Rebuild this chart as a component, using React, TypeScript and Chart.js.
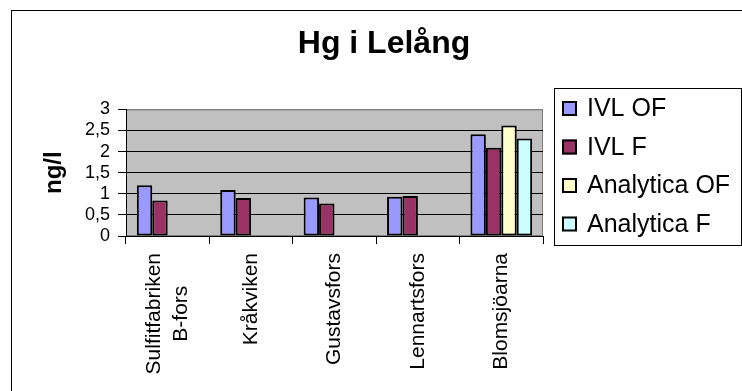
import React, { useEffect, useRef } from 'react';
import { Chart, registerables } from 'chart.js';

Chart.register(...registerables);

const FONT = '"Liberation Sans", Arial, sans-serif';

const categoryLines: string[][] = [
  ['Sulfitfabriken', 'B-fors'],
  ['Kråkviken'],
  ['Gustavsfors'],
  ['Lennartsfors'],
  ['Blomsjöarna'],
];
const seriesNames = ['IVL OF', 'IVL F', 'Analytica OF', 'Analytica F'];
const ivlOF = [1.2, 1.09, 0.91, 0.93, 2.41];
const ivlF = [0.84, 0.9, 0.77, 0.945, 2.09];
const analyticaOF = [null, null, null, null, 2.62];
const analyticaF = [null, null, null, null, 2.31];
const seriesColors = ['#9999FF', '#993366', '#FFFFCC', '#CCFFFF'];
const yTickValues = [0, 0.5, 1, 1.5, 2, 2.5, 3];
const yTickLabels = ['0', '0,5', '1', '1,5', '2', '2,5', '3'];
const chartTitle = 'Hg i Lelång';
const yTitle = 'ng/l';

const decor = {
  id: 'decor',
  beforeDraw(chart: any) {
    const { ctx, chartArea: a } = chart;
    ctx.save();
    ctx.fillStyle = '#C0C0C0';
    ctx.fillRect(a.left, a.top, a.right - a.left, a.bottom - a.top);
    ctx.strokeStyle = '#808080';
    ctx.lineWidth = 1;
    ctx.strokeRect(a.left + 0.5, a.top + 0.5, a.right - a.left - 1, a.bottom - a.top - 1);
    ctx.restore();
  },
  afterDraw(chart: any) {
    const { ctx } = chart;
    const xs = chart.scales.x;
    ctx.save();
    // category labels
    ctx.font = `21px ${FONT}`;
    ctx.fillStyle = '#000';
    ctx.textAlign = 'center';
    ctx.textBaseline = 'middle';
    const lh = 27;
    const topY = 253;
    categoryLines.forEach((lines, i) => {
      const cx = xs.getPixelForTick(i);
      const w = Math.max(...lines.map((l) => ctx.measureText(l).width));
      lines.forEach((line, j) => {
        const lx = cx + (j - (lines.length - 1) / 2) * lh;
        ctx.save();
        ctx.translate(lx, topY);
        ctx.rotate(-Math.PI / 2);
        ctx.fillText(line, -w / 2, 0);
        ctx.restore();
      });
    });
    // legend
    const lx0 = 554.5, ly0 = 88.5, lw = 187, lhh = 157;
    ctx.strokeStyle = '#000';
    ctx.lineWidth = 1;
    ctx.strokeRect(lx0, ly0, lw, lhh);
    ctx.font = `25px ${FONT}`;
    ctx.textAlign = 'left';
    ctx.textBaseline = 'middle';
    chart.data.datasets.forEach((ds: any, i: number) => {
      const cy = 108.5 + 38.5 * i;
      ctx.fillStyle = ds.backgroundColor;
      ctx.fillRect(562, cy - 7.5, 15, 15);
      ctx.strokeStyle = '#000';
      ctx.lineWidth = 2;
      ctx.strokeRect(563, cy - 6.5, 13, 13);
      ctx.fillStyle = '#000';
      ctx.fillText(ds.label, 587, cy + 1);
    });
    // outer border
    ctx.strokeStyle = '#000';
    ctx.lineWidth = 1;
    ctx.strokeRect(11.5, 10.5, 900, 600);
    ctx.restore();
  },
};

export default function App() {
  const ref = useRef<HTMLCanvasElement>(null);
  useEffect(() => {
    if (!ref.current) return;
    const data = [ivlOF, ivlF, analyticaOF, analyticaF];
    const chart = new Chart(ref.current, {
      type: 'bar',
      data: {
        labels: categoryLines.map((l) => l.join(' ')),
        datasets: seriesNames.map((name, i) => ({
          label: name,
          data: data[i] as any,
          backgroundColor: seriesColors[i],
          borderColor: '#000',
          borderWidth: 2,
          borderSkipped: false,
          yAxisID: 'y',
          categoryPercentage: 0.74,
          barPercentage: 1,
        })),
      },
      options: {
        responsive: false,
        animation: false,
        devicePixelRatio: 1,
        layout: { padding: { left: 26, right: 0, top: 0, bottom: 0 } },
        plugins: {
          legend: { display: false },
          tooltip: { enabled: false },
          title: {
            display: true,
            text: chartTitle,
            color: '#000',
            font: { family: FONT, size: 32, weight: 'bold' },
            padding: { top: 25, bottom: 46 },
          },
        },
        scales: {
          x: {
            afterFit: (s: any) => {
              s.height = 155;
            },
            ticks: { display: false },
            grid: {
              offset: true,
              drawOnChartArea: false,
              drawTicks: true,
              tickLength: 8,
              color: '#000',
            },
            border: { color: '#000', width: 1 },
          },
          y: {
            type: 'linear',
            position: 'left',
            min: 0,
            max: 3,
            afterFit: (s: any) => {
              s.width = 100;
            },
            afterBuildTicks: (s: any) => {
              s.ticks = yTickValues.map((v) => ({ value: v }));
            },
            ticks: {
              color: '#000',
              padding: 8,
              autoSkip: false,
              font: { family: FONT, size: 18 },
              callback: (v: any) => {
                const i = yTickValues.indexOf(Number(v));
                return i >= 0 ? yTickLabels[i] : '';
              },
            },
            grid: {
              color: (c: any) => (c.tick && c.tick.value === 3 ? '#808080' : '#000'),
              tickColor: '#000',
              tickLength: 8,
              drawTicks: true,
            },
            border: { color: '#000', width: 1 },
            title: {
              display: true,
              text: yTitle,
              color: '#000',
              font: { family: FONT, size: 24, weight: 'bold' },
              padding: { top: 14, bottom: 0 },
            },
          },
          yR: {
            type: 'linear',
            position: 'right',
            display: true,
            afterFit: (s: any) => {
              s.width = 199;
            },
            ticks: { display: false },
            grid: { display: false, drawOnChartArea: false },
            border: { display: false },
          },
        },
      } as any,
      plugins: [decor],
    });
    return () => chart.destroy();
  }, []);
  return (
    <canvas
      ref={ref}
      width={742}
      height={391}
      style={{ position: 'absolute', left: 0, top: 0, display: 'block' }}
    />
  );
}
